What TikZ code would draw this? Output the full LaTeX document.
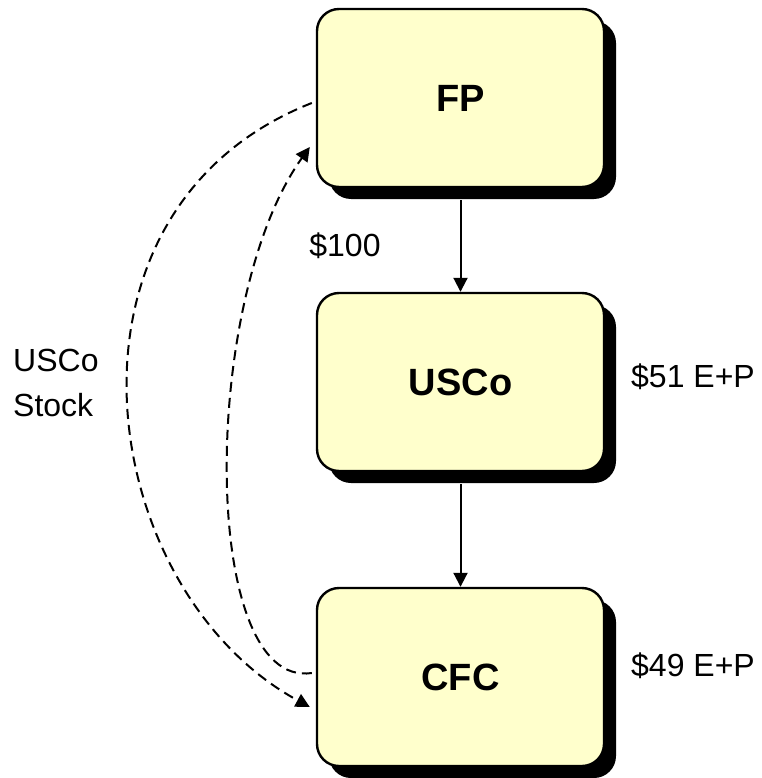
\documentclass[tikz,border=0pt]{standalone}
\usepackage{fontspec}
\setmainfont{Liberation Sans}
\usetikzlibrary{arrows.meta,shadows}
\definecolor{boxfill}{HTML}{FFFFCC}
\tikzset{
  entity/.style={draw=black, line width=2.4pt, fill=boxfill, rounded corners=22pt,
    minimum width=287pt, minimum height=178pt, inner sep=0pt,
    font=\fontsize{38}{44}\selectfont\bfseries,
    drop shadow={shadow xshift=12pt, shadow yshift=-12pt, opacity=1, fill=black}},
  flow/.style={line width=2pt, -{Triangle[length=14pt,width=14pt]}},
  stockflow/.style={line width=2pt, dash pattern=on 10pt off 6pt, -{Triangle[length=14pt,width=14pt]}},
  amount/.style={font=\fontsize{32}{38}\selectfont, inner sep=0pt}
}
\begin{document}
\begin{tikzpicture}[x=1pt,y=-1pt]
  \useasboundingbox (0,0) rectangle (761,778);
  % entities
  \node[entity] (fp)   at (460.5,98)  {FP};
  \node[entity] (usco) at (460.5,382) {USCo};
  \node[entity] (cfc)  at (460.5,677) {CFC};
  % ownership flow
  \draw[flow] ([yshift=-12pt]fp.south) -- (usco.north);
  \draw[flow] ([yshift=-12pt]usco.south) -- (cfc.north);
  % amounts
  \node[amount] (cash) at (345,246) {\$100};
  \node[amount] (ep51) at (693,377) {\$51 E+P};
  \node[amount] (ep49) at (693,666) {\$49 E+P};
  \node[amount, anchor=west, align=left, font=\fontsize{32}{45}\selectfont] (stock) at (13,383) {USCo\\Stock};
  % stock and cash exchange
  \coordinate (fpout)  at ([xshift=-4pt,yshift=-5pt]fp.west);
  \coordinate (fpin)   at ([xshift=-6pt,yshift=-49pt]fp.west);
  \coordinate (cfcout) at ([xshift=-4pt,yshift=4pt]cfc.west);
  \coordinate (cfcin)  at ([xshift=-6pt,yshift=-30pt]cfc.west);
  \draw[stockflow] (fpout) .. controls (40,210) and (95,590) .. (cfcin);
  \draw[stockflow] (cfcout) .. controls (200,690) and (200,300) .. (fpin);
\end{tikzpicture}
\end{document}
